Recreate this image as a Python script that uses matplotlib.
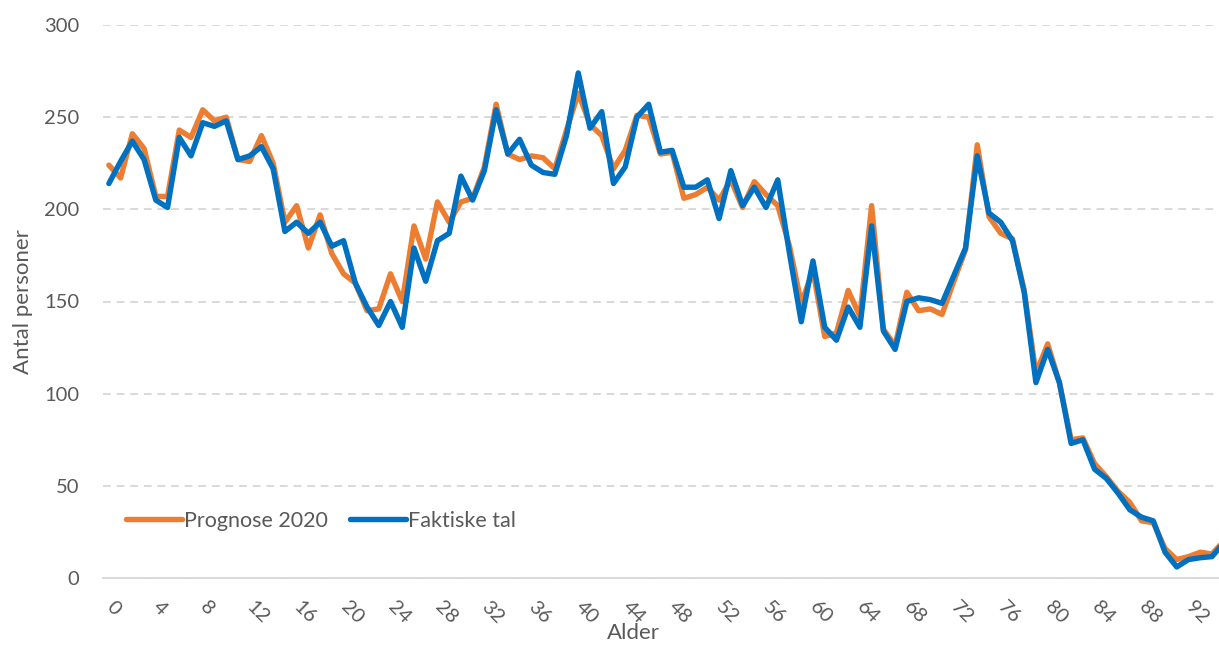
import matplotlib.pyplot as plt
import numpy as np

# Alder 0..95
ages = np.arange(0, 96)

prognose = [224, 217, 241, 233, 207, 207, 243, 239, 254, 248,
            250, 227, 226, 240, 225, 193, 202, 179, 197, 176,
            165, 160, 145, 146, 165, 150, 191, 173, 204, 193,
            204, 206, 223, 257, 230, 227, 229, 228, 222, 243,
            263, 246, 240, 222, 232, 251, 250, 230, 231, 206,
            208, 212, 205, 216, 201, 215, 208, 202, 180, 149,
            167, 131, 133, 156, 142, 202, 135, 126, 155, 145,
            146, 143, 161, 178, 235, 196, 187, 184, 156, 111,
            127, 106, 75, 76, 62, 55, 47, 41, 31, 30,
            16, 10, 11.6, 14, 13, 20]

faktiske = [214, 226, 237, 227, 205, 201, 239, 229, 247, 245,
            248, 227, 229, 234, 222, 188, 193, 187, 193, 180,
            183, 160, 147, 137, 150, 136, 179, 161, 183, 187,
            218, 205, 221, 254, 230, 238, 224, 220, 219, 240,
            274, 244, 253, 214, 223, 250, 257, 231, 232, 212,
            212, 216, 195, 221, 202, 212, 201, 216, 176, 139,
            172, 136, 129, 147, 136, 191, 134, 124, 150, 152,
            151, 149, 164, 179, 229, 198, 193, 183, 155, 106,
            124, 106, 73, 75, 59, 54, 46, 37, 33, 31,
            14, 6, 10, 11, 11.6, 19]

tick_ages = list(range(0, 93, 4))

TXT = "#595959"
plt.rcParams['font.family'] = ['Lato', 'DejaVu Sans']

fig = plt.figure(figsize=(12.19, 6.45), dpi=100)
ax = fig.add_axes([103 / 1219, 67 / 645, 1 - 103 / 1219, (578 - 25) / 645])

ax.plot(ages, prognose, color="#ED7D31", linewidth=3.9, label="Prognose 2020",
        solid_joinstyle="round", solid_capstyle="round", zorder=3)
ax.plot(ages, faktiske, color="#0070C0", linewidth=3.9, label="Faktiske tal",
        solid_joinstyle="round", solid_capstyle="round", zorder=4)

ax.set_xlim(-0.5, 94.6)
ax.set_ylim(0, 300)
ax.set_yticks(range(0, 301, 50))
ax.yaxis.grid(True, color="#d9d9d9", linestyle=(0, (4, 3)), linewidth=1.4)
ax.set_axisbelow(True)

for s in ["top", "right", "left"]:
    ax.spines[s].set_visible(False)
ax.spines["bottom"].set_color("#d9d9d9")
ax.spines["bottom"].set_linewidth(1.4)

ax.tick_params(axis="both", length=0, labelsize=14.5, labelcolor=TXT)
ax.tick_params(axis="y", pad=17)
ax.set_xticks(tick_ages)
ax.set_xticklabels([str(a) for a in tick_ages], rotation=-45,
                   ha="left", va="center", rotation_mode="anchor")
ax.tick_params(axis="x", pad=19)

ax.set_ylabel("Antal personer", fontsize=16, color=TXT, labelpad=8)
fig.text(633 / 1219, 1 - 633 / 645, "Alder", fontsize=16, color=TXT,
         ha="center", va="center")

leg = ax.legend(loc="lower left", bbox_to_anchor=(0.003, 0.05), ncol=2, frameon=False,
                fontsize=15.5, labelcolor=TXT, handlelength=2.6, handletextpad=0.12,
                columnspacing=1.0)

fig.savefig("out.png", dpi=100)
